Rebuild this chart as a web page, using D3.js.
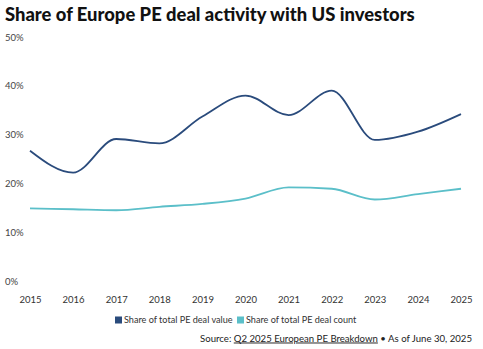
<!DOCTYPE html>
<html><head><meta charset="utf-8">
<script src="https://cdn.jsdelivr.net/npm/d3@7"></script>
<style>body{margin:0;background:#fff;}svg{display:block;font-family:Lato,"Open Sans",sans-serif;}</style>
</head><body><svg id="c" width="483" height="349"></svg>
<script>
const years = [2015,2016,2017,2018,2019,2020,2021,2022,2023,2024,2025];
const dealValue = [26.7,22.2,29.1,28.2,33.7,38.0,34.0,39.0,28.9,30.6,34.2];
const dealCount = [14.9,14.7,14.5,15.2,15.8,16.9,19.2,18.9,16.7,17.8,18.9];
const yTicks = [0,10,20,30,40,50];
const seriesNames = ["Share of total PE deal value","Share of total PE deal count"];
const colors = ["#2a4b7c","#5bbfc9"];

const svg = d3.select("#c");
svg.append("text").attr("x",5).attr("y",21).attr("font-size",18.4).attr("font-weight",900)
  .attr("fill","#111").text("Share of Europe PE deal activity with US investors");

const x = d3.scalePoint().domain(years).range([30,461]);
const y = d3.scaleLinear().domain([0,50]).range([281,37]);

const yAxis = svg.append("g").call(d3.axisLeft(y).tickValues(yTicks).tickFormat(d=>d+"%").tickSize(0));
yAxis.select(".domain").remove();
yAxis.selectAll("text").attr("x",5).attr("text-anchor","start").attr("font-size",9.5)
  .attr("fill","#444").attr("font-family","Lato,sans-serif");

const xAxis = svg.append("g").attr("transform","translate(0,300)").call(d3.axisBottom(x).tickSize(0));
xAxis.select(".domain").remove();
xAxis.selectAll("text").attr("y",0).attr("dy","0.35em").attr("font-size",9.5).attr("fill","#333")
  .attr("font-family","Lato,sans-serif");

const line = d3.line().x((d,i)=>x(years[i])).y(d=>y(d)).curve(d3.curveMonotoneX);
[dealValue, dealCount].forEach((s,i)=>{
  svg.append("path").attr("d",line(s)).attr("fill","none").attr("stroke",colors[i]).attr("stroke-width",1.8);
});

const legend = svg.append("g");
const lx = [115, 237];
seriesNames.forEach((n,i)=>{
  legend.append("rect").attr("x",lx[i]).attr("y",316.5).attr("width",7).attr("height",7).attr("fill",colors[i]);
  legend.append("text").attr("x",lx[i]+9).attr("y",323).attr("font-size",9.1).attr("fill","#333").text(n);
});

const src = svg.append("text").attr("x",472).attr("y",341.5).attr("text-anchor","end").attr("font-size",9.6).attr("fill","#222");
src.append("tspan").text("Source: ");
src.append("tspan").attr("text-decoration","underline").text("Q2 2025 European PE Breakdown");
src.append("tspan").text(" \u2022 As of June 30, 2025");
</script></body></html>
